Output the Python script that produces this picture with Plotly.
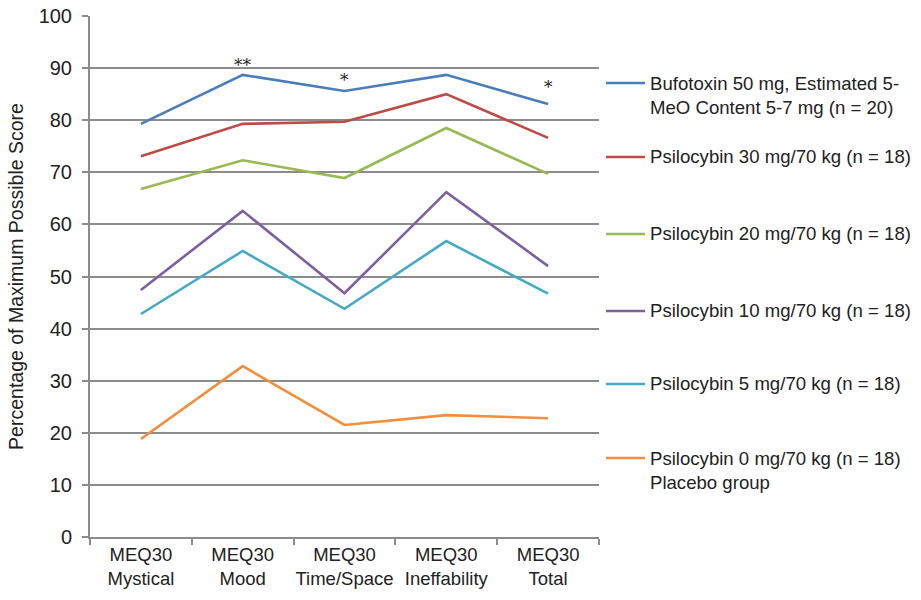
import plotly.graph_objects as go

categories = ["MEQ30<br>Mystical", "MEQ30<br>Mood", "MEQ30<br>Time/Space", "MEQ30<br>Ineffability", "MEQ30<br>Total"]

series_names = [
    "Bufotoxin 50 mg, Estimated 5-<br>MeO Content 5-7 mg (n = 20)",
    "Psilocybin 30 mg/70 kg (n = 18)",
    "Psilocybin 20 mg/70 kg (n = 18)",
    "Psilocybin 10 mg/70 kg (n = 18)",
    "Psilocybin 5 mg/70 kg (n = 18)",
    "Psilocybin 0 mg/70 kg (n = 18)<br>Placebo group",
]
bufotoxin_50 = [79.3, 88.7, 85.6, 88.7, 83.1]
psilocybin_30 = [73.1, 79.3, 79.7, 85.0, 76.6]
psilocybin_20 = [66.8, 72.3, 68.9, 78.5, 69.7]
psilocybin_10 = [47.4, 62.6, 46.8, 66.2, 52.0]
psilocybin_5 = [42.8, 54.9, 43.8, 56.8, 46.7]
psilocybin_0 = [18.8, 32.8, 21.5, 23.4, 22.8]
series_values = [bufotoxin_50, psilocybin_30, psilocybin_20, psilocybin_10, psilocybin_5, psilocybin_0]
colors = ["#4A7EBB", "#BE4B48", "#98B954", "#7D60A0", "#46AAC5", "#F28E3C"]

# significance markers
sig_labels = ["**", "*", "*"]
sig_cats = [1, 2, 4]
sig_y = [90.6, 87.7, 86.4]

y_ticks = list(range(0, 101, 10))

FONT = "Liberation Sans, Arial, sans-serif"

fig = go.Figure()
for name, vals, col in zip(series_names, series_values, colors):
    fig.add_trace(go.Scatter(x=categories, y=vals, mode="lines", name=name,
                             line=dict(color=col, width=2.6), showlegend=False))

# significance annotations
for lab, ci, yv in zip(sig_labels, sig_cats, sig_y):
    fig.add_annotation(x=categories[ci], y=yv, text=lab, showarrow=False,
                       font=dict(family="DejaVu Serif, serif", size=17, color="#222"),
                       xanchor="center", yanchor="middle")

# manual legend
leg_y = [0.8714, 0.7294, 0.5816, 0.4338, 0.2937, 0.1516]
for name, col, ly in zip(series_names, colors, leg_y):
    fig.add_shape(type="line", xref="paper", yref="paper", x0=1.0138, x1=1.0904,
                  y0=ly, y1=ly, line=dict(color=col, width=2.6))
    fig.add_annotation(xref="paper", yref="paper", x=1.0955, y=ly + 12.5 / 521,
                       text=name, showarrow=False, xanchor="left", yanchor="top",
                       align="left", font=dict(family=FONT, size=18.6, color="#222"))

fig.update_layout(
    width=921, height=600,
    margin=dict(l=90, r=322, t=16, b=63),
    paper_bgcolor="white", plot_bgcolor="white",
    font=dict(family=FONT, color="#222"),
)
fig.update_xaxes(
    range=[-0.5, 4.5], showgrid=False, showline=True, linecolor="#8c8c8c", linewidth=2,
    ticks="outside", tickson="boundaries", ticklen=6, tickwidth=2, tickcolor="#8c8c8c",
    tickangle=0, tickfont=dict(family=FONT, size=18.5, color="#222"), automargin=False,
)
fig.update_yaxes(
    range=[0, 100], tickvals=y_ticks, showgrid=True, gridcolor="#8c8c8c", gridwidth=2,
    showline=True, linecolor="#8c8c8c", linewidth=2, zeroline=False,
    ticks="outside", ticklen=6, tickwidth=2, tickcolor="#8c8c8c", ticklabelstandoff=6,
    ticklabeloverflow="allow",
    tickfont=dict(family=FONT, size=20, color="#222"), automargin=False,
    title=dict(text="Percentage of Maximum Possible Score", font=dict(family=FONT, size=19.5, color="#222"), standoff=10),
)

fig.write_html("out.html", config={"displayModeBar": False},
               post_script="document.body.style.margin='0';")
